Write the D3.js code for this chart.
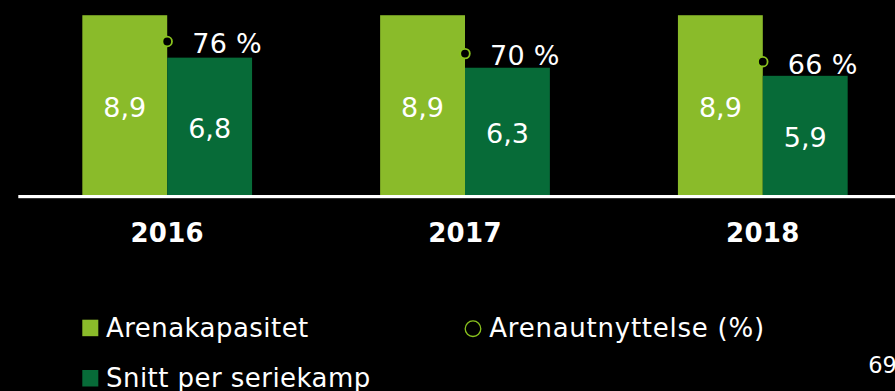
<!DOCTYPE html>
<html>
<head>
<meta charset="utf-8">
<script src="https://cdn.jsdelivr.net/npm/d3@7"></script>
<style>
  html, body { margin: 0; padding: 0; background: #000; }
  svg { display: block; }
  text { font-family: "DejaVu Sans", Verdana, sans-serif; fill: #fff; }
</style>
</head>
<body>
<svg id="chart" width="895" height="391"></svg>
<script>
// Seasons, arena capacity and average attendance (thousands), utilisation (%)
const years = ["2016", "2017", "2018"];
const capacity = [8.9, 8.9, 8.9];
const attendance = [6.8, 6.3, 5.9];
const utilisation = [76, 70, 66];
const seriesNames = ["Arenakapasitet", "Snitt per seriekamp"];
const utilLabel = "Arenautnyttelse (%)";
const pageNumber = "69";

const colors = { capacity: "#8abb2a", attendance: "#076b38", ring: "#8ac31e" };
const fmt = v => d3.format(".1f")(v).replace(".", ",");

const svg = d3.select("#chart");
const W = 895;
const baseY = 195;

const x0 = d3.scaleBand().domain(years).range([18.3, 911.7])
  .paddingInner(0.43).paddingOuter(0.215);
const x1 = d3.scaleBand().domain(seriesNames).range([0, x0.bandwidth()]).padding(0);
const y = d3.scaleLinear().domain([0, 10]).range([baseY, -7]);
const yPct = d3.scaleLinear().domain([0, 100]).range([baseY, -7]);

const rows = years.map((yr, i) => ({
  year: yr,
  bars: [
    { key: seriesNames[0], value: capacity[i], color: colors.capacity },
    { key: seriesNames[1], value: attendance[i], color: colors.attendance }
  ],
  pct: utilisation[i]
}));

const groups = svg.append("g").selectAll("g.grp").data(rows).join("g")
  .attr("class", "grp")
  .attr("transform", d => `translate(${x0(d.year)},0)`);

groups.selectAll("rect").data(d => d.bars).join("rect")
  .attr("x", d => x1(d.key))
  .attr("y", d => y(d.value))
  .attr("width", x1.bandwidth())
  .attr("height", d => y(0) - y(d.value))
  .attr("fill", d => d.color);

groups.selectAll("text.val").data(d => d.bars).join("text")
  .attr("class", "val")
  .attr("x", d => x1(d.key) + x1.bandwidth() / 2)
  .attr("y", d => (y(d.value) + y(0)) / 2 + 2)
  .attr("dy", "0.365em")
  .attr("text-anchor", "middle")
  .style("font-size", "27px")
  .text(d => fmt(d.value));

// utilisation markers sit on the seam between the two bars
groups.append("circle")
  .attr("cx", x1(seriesNames[1]))
  .attr("cy", d => yPct(d.pct))
  .attr("r", 4.8)
  .attr("fill", "#000")
  .attr("stroke", colors.ring)
  .attr("stroke-width", 1.8);

groups.append("text")
  .attr("x", x1(seriesNames[1]) + 25)
  .attr("y", d => yPct(d.pct) + 2)
  .attr("dy", "0.365em")
  .style("font-size", "27px")
  .style("letter-spacing", "0.3px")
  .text(d => `${d.pct} %`);

// baseline
svg.append("rect")
  .attr("x", x0.range()[0])
  .attr("y", baseY)
  .attr("width", W - x0.range()[0])
  .attr("height", 3.2)
  .attr("fill", "#fff");

// year axis
const xAxis = d3.axisBottom(x0).tickSize(0).tickPadding(0);
const axisG = svg.append("g").attr("transform", `translate(0,${baseY})`).call(xAxis);
axisG.select(".domain").remove();
axisG.selectAll("text")
  .attr("y", 46.7)
  .attr("dy", 0)
  .style("font-size", "26px")
  .style("font-weight", "bold")
  .style("letter-spacing", "0.3px")
  .attr("fill", "#fff");

// legend
const lg = svg.append("g");
const legendRows = [
  { name: seriesNames[0], color: colors.capacity, y: 336.7 },
  { name: seriesNames[1], color: colors.attendance, y: 387 }
];
legendRows.forEach(r => {
  lg.append("rect").attr("x", 82.3).attr("y", r.y - 17).attr("width", 16).attr("height", 16.5)
    .attr("fill", r.color);
  lg.append("text").attr("x", 106).attr("y", r.y)
    .style("font-size", "26px").style("letter-spacing", "0.45px").text(r.name);
});
lg.append("circle").attr("cx", 473).attr("cy", 328.7).attr("r", 7.8)
  .attr("fill", "none").attr("stroke", colors.ring).attr("stroke-width", 1.3);
lg.append("text").attr("x", 489.3).attr("y", 336.7)
  .style("font-size", "26px").style("letter-spacing", "0.75px").text(utilLabel);

svg.append("text").attr("x", 868.3).attr("y", 373.3)
  .style("font-size", "22.5px").text(pageNumber);
</script>
</body>
</html>
